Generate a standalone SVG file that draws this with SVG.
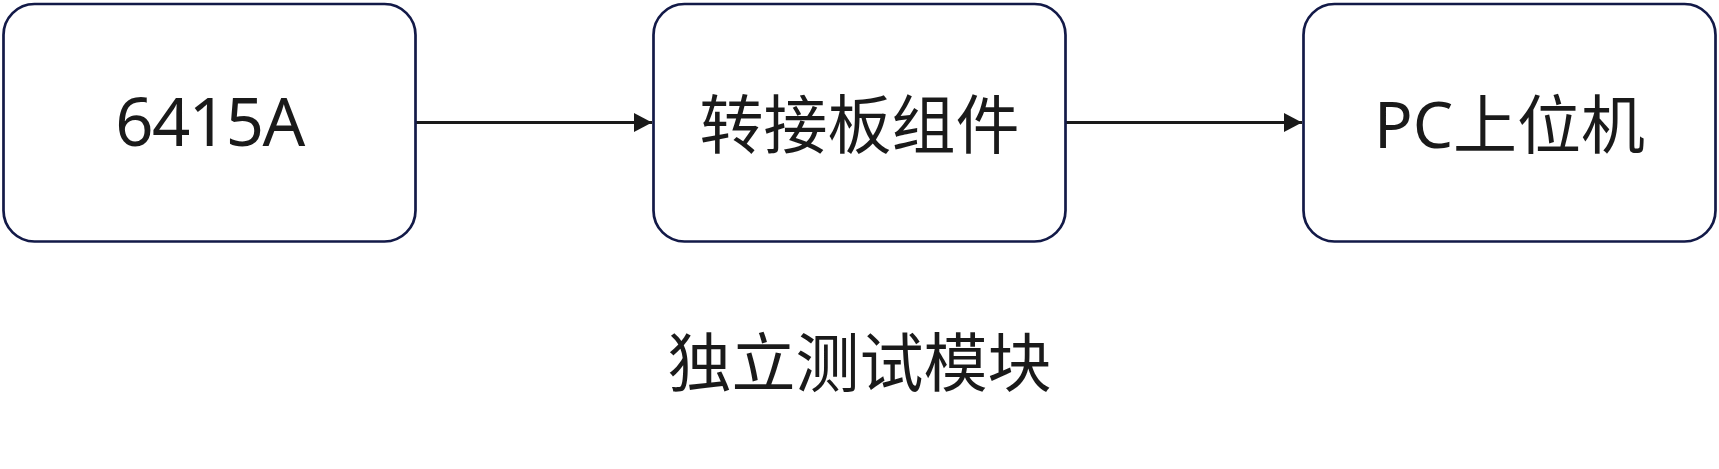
<svg xmlns="http://www.w3.org/2000/svg" width="1719" height="469" viewBox="0 0 1719 469">
<style>
.box{fill:#ffffff;stroke:#131a48;stroke-width:2.7}
.lbl{font-family:"Noto Sans","Noto Sans CJK SC",sans-serif;font-size:64px;fill:#1a1a1a;text-anchor:middle;dominant-baseline:central}
.num{font-size:67px;letter-spacing:-1.5px}
.edge{stroke:#1a1a1a;stroke-width:2.8;fill:none}
</style>
<defs>
<marker id="arr" markerUnits="userSpaceOnUse" markerWidth="20" markerHeight="20" viewBox="0 0 20 20" refX="19" refY="10" orient="auto">
<path d="M1,0.5 L19,10 L1,19.5 Z" fill="#1a1a1a"/>
</marker>
</defs>
<rect width="1719" height="469" fill="#ffffff"/>
<g id="connectors">
<line class="edge" x1="416" y1="122.5" x2="652" y2="122.5" marker-end="url(#arr)"/>
<line class="edge" x1="1066" y1="122.5" x2="1302" y2="122.5" marker-end="url(#arr)"/>
</g>
<g id="node-6415A">
<rect class="box" x="3.5" y="4" width="412" height="237.5" rx="31" ry="31"/>
<text class="lbl num" x="209.5" y="120">6415A</text>
</g>
<g id="node-adapter">
<rect class="box" x="653.5" y="4" width="412" height="237.5" rx="31" ry="31"/>
<text class="lbl" x="859.5" y="123">转接板组件</text>
</g>
<g id="node-pc">
<rect class="box" x="1303.5" y="4" width="412" height="237.5" rx="31" ry="31"/>
<text class="lbl" x="1509.5" y="123">PC上位机</text>
</g>
<g id="title">
<text class="lbl" x="859.5" y="361">独立测试模块</text>
</g>
</svg>
